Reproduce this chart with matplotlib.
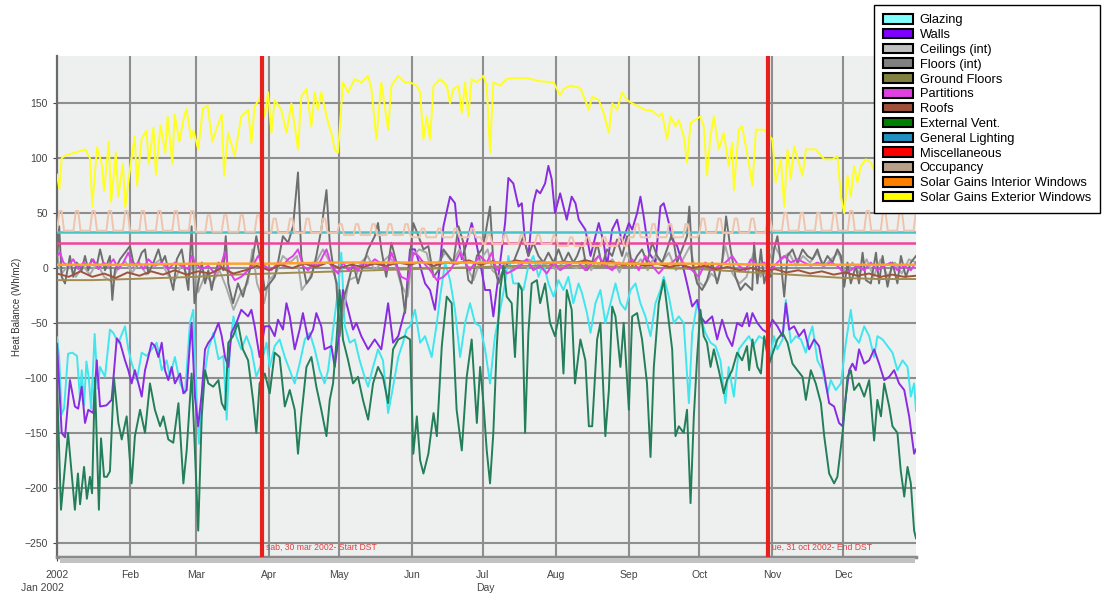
import numpy as np
import matplotlib
matplotlib.use("Agg")
import matplotlib.pyplot as plt
from matplotlib.patches import Patch, Rectangle

plt.rcParams['font.family'] = ['Liberation Sans', 'DejaVu Sans']

# ---------------- data (day of year, W/m2) ----------------
month_starts = [0, 31, 59, 90, 120, 151, 181, 212, 243, 273, 304, 334]
month_labels = ['2002', 'Feb', 'Mar', 'Apr', 'May', 'Jun', 'Jul', 'Aug', 'Sep', 'Oct', 'Nov', 'Dec']
y_ticks = [-250, -200, -150, -100, -50, 0, 50, 100, 150]

glazing = [(0,-63),(0.9,-81),(2,-133),(3,-128),(4.7,-78),(6.5,-77),(8.5,-80),(9.8,-120),(10.5,-93),(11.5,-125),(12.5,-85),(13.5,-100),(14.5,-128),(16,-60),(17.3,-110),(18.3,-90),(20.4,-99),(22.5,-56),(23.9,-59),(26.1,-68),(28.9,-53),(30.3,-74),(31.7,-86),(33.9,-102),(36,-77),(38.1,-80),(40.2,-74),(42.4,-68),(44.5,-93),(46.6,-84),(48,-99),(50.1,-81),(52.3,-105),(54.4,-114),(56.5,-50),(57.9,-38),(59.4,-123),(60.3,-160),(62.2,-105),(64.3,-74),(66.4,-59),(68.6,-83),(70.7,-80),(72.1,-138),(73.5,-71),(75,-44),(76.2,-62),(78.3,-74),(80.5,-62),(82.6,-74),(84.7,-99),(86.8,-87),(89,-68),(90.4,-90),(92.5,-71),(94.6,-65),(96.8,-81),(98.9,-93),(101,-105),(103.1,-87),(105.3,-65),(107.4,-59),(109.5,-74),(111.6,-93),(113.7,-105),(115.2,-93),(117.3,-56),(119.4,-20),(120.8,14),(122.3,-53),(124.4,-68),(126.5,-65),(128.6,-84),(130.7,-99),(132.2,-108),(134.3,-90),(136.4,-74),(138.5,-84),(140.7,-132),(142.8,-108),(145,-81),(147,-68),(148.5,-56),(150,-53),(152.1,-38),(154.3,-68),(156.4,-62),(159.2,-81),(161.4,-50),(162.8,-26),(164.9,5),(167,-11),(169.1,-38),(171.3,-81),(173.4,-50),(175.5,-32),(177.6,-50),(179.8,-53),(181.9,-74),(184,-105),(186.1,-62),(188.3,-38),(190.4,-14),(191.8,11),(193.9,-14),(196.1,-14),(198.2,-20),(200.3,2),(202.4,11),(204.6,-8),(206.7,5),(208.8,-14),(211,-26),(213.1,-11),(215.2,-20),(217.3,-8),(219.4,-32),(221.6,-14),(223.1,-23),(225.2,-41),(226.7,-59),(228.8,-32),(230.9,-20),(233,-50),(235.2,-32),(237.3,-14),(239.4,-32),(241.5,-38),(243.7,-20),(245.8,-14),(247.9,-32),(250,-44),(252.2,-62),(254.3,-32),(256.4,-20),(257.8,-8),(260,-26),(262.1,-50),(264.2,-44),(266.3,-50),(268.5,-123),(269.9,-59),(272,-32),(273.4,-44),(275.5,-59),(277.7,-68),(279.8,-71),(281.9,-84),(284,-123),(285.4,-90),(287.6,-117),(289.7,-74),(291.8,-68),(294,-62),(296,-70),(298.3,-62),(300.5,-65),(302.6,-87),(304.7,-62),(306.1,-74),(308.3,-65),(309.7,-29),(311.8,-68),(314,-62),(316.1,-65),(318.2,-77),(319.6,-62),(321,-53),(323.1,-84),(325.3,-93),(327.4,-114),(328.8,-102),(330.9,-111),(333.1,-105),(335.2,-68),(337.3,-38),(338.7,-62),(340.8,-68),(343,-53),(345.1,-62),(347.2,-81),(348.6,-62),(350.8,-65),(352.9,-71),(355,-77),(357.1,-93),(359.3,-84),(361.4,-90),(362.8,-117),(364.2,-105),(365,-130)]

walls = [(0,-69),(2,-150),(3.4,-154),(5.5,-102),(7.6,-126),(9,-128),(10.5,-108),(11.9,-141),(13.3,-129),(15.4,-132),(16.9,-84),(18.3,-126),(21,-125),(23.2,-120),(25.4,-64),(26.8,-68),(28.9,-84),(30.3,-93),(31.7,-105),(33.1,-93),(34.6,-105),(36,-117),(37.4,-93),(38.8,-81),(40.2,-68),(41.6,-71),(43.1,-81),(44.5,-68),(45.9,-93),(47.3,-102),(48.7,-90),(50.1,-105),(52.3,-96),(53.7,-114),(55.1,-111),(56.5,-68),(57.2,-50),(58.6,-117),(60,-144),(61.5,-114),(62.9,-74),(64.3,-68),(66.4,-62),(68.6,-50),(70,-62),(71.4,-81),(72.8,-90),(74.1,-59),(76.2,-50),(78.3,-38),(81.2,-44),(82.6,-38),(84,-53),(86.1,-81),(88.3,-53),(90.4,-53),(92.5,-62),(93.9,-47),(96,-56),(97.5,-32),(98.9,-44),(101,-74),(103.1,-56),(104.5,-41),(106.7,-65),(108.8,-56),(110.2,-41),(112.3,-53),(113.7,-74),(116.6,-71),(118,-90),(119.4,-68),(121.5,-20),(123.7,-38),(125.8,-56),(127.2,-50),(129.3,-62),(132.2,-74),(135,-65),(137.8,-74),(140.7,-32),(142.8,-68),(145,-62),(147.9,-38),(150,17),(152.1,17),(154.3,2),(156.4,-14),(158.5,-20),(160.6,-38),(162.8,5),(164.2,38),(167,65),(169.1,59),(170.6,26),(172,8),(174.1,23),(176.2,41),(177.6,29),(179.8,5),(181.9,-20),(184,-20),(185.4,-44),(186.8,-20),(188.3,5),(190.4,41),(191.8,82),(193.9,77),(196.1,56),(197.5,59),(198.9,23),(200.3,11),(202.4,59),(203.8,71),(205.3,68),(207.4,77),(208.8,93),(210.2,81),(211.6,50),(213.8,68),(215.2,56),(216.6,44),(218.7,65),(220.3,59),(221.7,44),(224.5,35),(226.7,11),(228.8,29),(230.2,41),(232.3,23),(233.7,2),(235.9,35),(238,44),(240.1,23),(243,41),(244.4,35),(246.5,50),(247.9,65),(249.3,47),(251.5,14),(254.3,5),(256.4,56),(257.8,59),(260,41),(261.4,26),(263.5,20),(265.6,5),(267.7,-14),(269.9,-35),(272,-29),(273.4,-44),(275.5,-50),(278.4,-44),(280.5,-65),(282.6,-47),(284.7,-62),(286.9,-71),(289,-50),(291.1,-53),(293.2,-41),(294.1,-53),(295.5,-41),(297.6,-50),(299.8,-56),(301.9,-59),(304,-47),(306.1,-53),(308.3,-62),(309.7,-32),(311.1,-56),(313.2,-53),(315.3,-62),(317.5,-56),(319.6,-74),(321.7,-65),(323.8,-71),(326,-96),(328.1,-123),(330.2,-126),(332.3,-141),(333.8,-144),(335.2,-117),(336.6,-93),(338,-87),(339.4,-93),(340.8,-74),(343,-87),(345.1,-84),(347.2,-74),(349.3,-87),(351.5,-102),(353.6,-99),(355.7,-93),(357.8,-105),(360,-111),(362.1,-135),(364.2,-169),(365,-165)]

ceilings = [(0,10),(2,-5),(5,3),(8,-8),(11,2),(14,-6),(17,5),(20,-8),(23,-12),(26,0),(29,6),(32,-4),(35,5),(38,-6),(41,3),(44,8),(47,-6),(50,-12),(53,4),(56,-10),(58,10),(60,-22),(63,-6),(66,-14),(69,-2),(72,-18),(75,-38),(78,-23),(81,-14),(83,17),(85,-14),(88,-32),(90,-11),(93,-5),(96,11),(99,5),(102,11),(104,-20),(107,-11),(110,5),(113,17),(116,5),(119,-14),(121,-50),(124,-11),(127,-8),(129,5),(132,11),(135,-2),(138,5),(141,11),(144,2),(146,-14),(149,-26),(151,11),(154,17),(157,14),(159,-2),(162,5),(165,14),(168,5),(171,17),(174,2),(177,-11),(180,8),(183,17),(185,-2),(188,-8),(191,2),(194,-2),(197,5),(200,8),(203,5),(206,2),(209,5),(212,-2),(215,5),(218,2),(221,0),(224,8),(227,-2),(230,11),(233,2),(236,8),(239,-4),(242,14),(245,0),(248,8),(251,-2),(254,11),(257,5),(260,14),(263,-2),(266,8),(269,20),(272,-11),(275,-17),(278,-5),(281,-11),(284,20),(287,-5),(290,-14),(293,-8),(296,14),(299,-8),(302,5),(305,20),(308,8),(311,14),(314,2),(317,11),(320,5),(323,14),(326,2),(329,8),(332,14),(335,-5),(338,5),(341,-5),(344,8),(347,-8),(350,8),(353,-8),(356,5),(359,-5),(362,8),(365,5)]

floors = [(0,5),(0.9,38),(2,-8),(3.4,-14),(5.5,11),(6.9,-8),(8.4,5),(10.5,-2),(11.9,11),(13.3,-2),(14.7,8),(16.9,2),(18.3,17),(20.4,-2),(22.5,11),(23.5,-29),(24.6,-2),(26.8,8),(28.9,14),(31,20),(32.4,5),(33.9,2),(36,14),(37.4,17),(38.8,-5),(41,5),(43.1,17),(44.5,5),(45.9,11),(48,-8),(49.4,-20),(50.9,8),(53,17),(54.4,-2),(55.8,-20),(57.2,38),(58.4,-32),(60,-14),(61.5,5),(62.9,-14),(64.3,-2),(65.7,-20),(67.1,-5),(68.6,5),(70.7,-2),(71.7,29),(72.8,-14),(74.8,-32),(76.9,-14),(79,-26),(81.2,-8),(83.3,11),(84.7,29),(86.1,11),(88.3,-20),(90.4,-14),(92.5,-8),(93.9,5),(96,29),(98.2,23),(100.3,38),(102.4,87),(103.8,11),(106,-14),(108.1,-8),(110.2,11),(112.3,35),(114.5,71),(115.9,23),(117.3,2),(118.7,-14),(120.1,-62),(121.5,-29),(123.7,-14),(125.8,5),(127.9,-14),(130,2),(132.2,17),(135,29),(136.4,41),(137.8,17),(139.9,-8),(142.1,23),(144.2,5),(146.3,-14),(147.9,-41),(150,11),(151.4,41),(153.6,29),(155.7,17),(157.8,20),(160,-8),(162.1,-2),(164.2,17),(166.3,11),(168.4,5),(170.6,38),(172.7,23),(174.8,-11),(176.2,-14),(178.4,11),(180.5,17),(181.9,29),(184,56),(185.4,5),(187.6,-14),(189.7,-2),(191.8,5),(193.9,5),(196.1,17),(198.2,29),(200.3,11),(202.4,23),(204.6,11),(206.7,5),(208.8,14),(211,5),(213.1,17),(215.2,5),(217.3,14),(219.4,5),(221,11),(223.1,23),(225.2,-2),(227.4,5),(229.5,23),(231.6,2),(233.7,17),(235.9,11),(238,26),(240.1,11),(242.2,29),(244.4,2),(246.5,11),(248.6,17),(250.7,5),(252.9,23),(255,11),(257.1,5),(259.2,17),(261.4,32),(263.5,5),(265.6,17),(267.7,29),(268.7,56),(269.9,5),(272,-14),(274.1,-20),(276.2,-11),(278.4,5),(280.5,-14),(282.6,5),(284.3,47),(286.2,17),(288.3,-8),(290.4,-20),(292.5,-14),(295.4,-20),(296.2,23),(297.6,-14),(299.1,17),(300.5,-14),(301.9,-2),(303.3,-8),(304.7,17),(306.1,29),(307.6,5),(309,-26),(310.4,11),(312.5,17),(314.6,5),(316.8,17),(318.9,11),(321,8),(323.1,17),(325.3,2),(327.4,11),(329.5,5),(331.6,17),(333.1,11),(334.5,-17),(335.9,5),(337.3,-14),(339.4,2),(340.8,-14),(342.3,14),(343.7,-11),(345.8,-14),(348,14),(349.3,-14),(350.8,11),(352.9,-17),(355,5),(357.1,-14),(358.6,11),(360.7,-8),(362.8,5),(365,11)]

ground_floors = [(0,-11),(15,-11),(31,-10),(45,-9),(59,-8),(75,-6),(90,-5),(105,-4),(120,-3),(135,-2),(151,-1),(166,0),(181,1),(196,2),(212,2),(227,2),(243,1),(258,0),(273,-1),(288,-3),(304,-5),(319,-7),(334,-9),(349,-10),(365,-10)]

partitions = [(0,11),(1.3,14),(2.7,5),(4.8,2),(6.9,8),(9.1,-1),(11.2,5),(13.3,2),(15.4,8),(17.6,-1),(19.7,5),(21.8,2),(24,8),(26.1,-1),(28.2,5),(30.3,14),(32.4,2),(34.6,5),(36.7,-1),(38.8,8),(41.6,2),(44.5,5),(47.3,-1),(50.1,5),(53,2),(55.8,-1),(57.2,11),(58.6,5),(61.5,-1),(64.3,2),(67.1,-5),(70,5),(71.4,15),(72.8,-1),(75.5,-11),(78.3,-8),(81.2,-2),(84,5),(85.4,11),(88.3,2),(91.1,-2),(93.9,5),(96,2),(98.2,8),(100.3,11),(102.4,17),(104.5,2),(106.7,-2),(108.8,5),(110.9,2),(113,11),(114.5,17),(116.6,2),(119.4,-5),(121.5,5),(123.7,-2),(125.8,2),(127.9,-2),(130,5),(132.2,2),(135,8),(137.1,5),(140,-2),(142.1,14),(144.2,2),(146.3,-8),(149.2,-11),(151.4,14),(153.6,11),(155.7,5),(158.5,-2),(161.4,-11),(164.2,-8),(167,-2),(169.1,5),(171.3,14),(173.4,5),(175.5,-2),(177.6,5),(179.8,11),(182.6,5),(184.7,14),(186.8,-2),(189,2),(191.1,-5),(193.9,-2),(196.8,2),(199.6,8),(202.4,-2),(205.3,2),(208.1,-5),(211,5),(213.8,-2),(216.6,2),(219.4,5),(221.7,5),(224.5,-2),(227.4,5),(230.2,11),(233,2),(235.9,-2),(238.7,5),(241.5,2),(244.4,8),(247.2,-2),(250,11),(252.9,2),(255.7,-5),(258.5,2),(261.4,5),(264.2,11),(267,2),(269.9,-2),(272.7,-8),(275.5,5),(278.4,-2),(281.2,2),(284,5),(286.9,11),(289.7,2),(292.5,-2),(294.8,8),(297.6,2),(300.5,5),(303.3,-2),(306.1,5),(309,11),(311.8,5),(314.6,8),(317.5,5),(320.3,2),(323.1,5),(326,2),(328.8,5),(331.6,2),(334.5,-5),(337.3,-2),(340.1,2),(343,-2),(345.8,5),(348.6,-2),(351.5,2),(354.3,5),(357.1,-2),(360,2),(362.8,-2),(365,5)]

roofs = [(0,-5),(5,-8),(10,-3),(15,-8),(20,-5),(25,-9),(30,-4),(35,-7),(40,-3),(45,-6),(50,-2),(55,-6),(60,-3),(65,-5),(70,0),(75,-5),(80,-2),(85,2),(90,-2),(95,3),(100,0),(105,4),(110,1),(115,5),(120,0),(125,3),(130,1),(135,4),(140,2),(145,5),(150,3),(155,6),(160,2),(165,5),(170,4),(175,7),(180,3),(185,6),(190,4),(195,7),(200,5),(205,6),(210,4),(215,6),(220,5),(225,7),(230,4),(235,6),(240,3),(245,5),(250,2),(255,4),(260,1),(265,3),(270,0),(275,2),(280,-1),(285,1),(290,-2),(295,0),(300,-3),(305,-1),(310,-4),(315,-2),(320,-5),(325,-3),(330,-6),(335,-4),(340,-7),(345,-5),(350,-8),(355,-6),(360,-8),(365,-7)]

external_vent = [(0,-103),(1.7,-220),(4.7,-150),(7.6,-220),(8.9,-187),(9.8,-215),(11.5,-181),(12.7,-210),(14,-190),(14.9,-205),(16.1,-100),(17.8,-220),(18.7,-155),(20,-190),(21.2,-190),(22.5,-185),(24.2,-100),(26.1,-141),(27.5,-156),(29.6,-135),(31.7,-196),(33.1,-153),(35.3,-129),(37.4,-150),(39.5,-105),(41.6,-129),(43.8,-144),(45.2,-135),(47.3,-156),(49.4,-159),(51.6,-123),(53.7,-196),(55.1,-166),(57.2,-96),(58.6,-166),(60,-239),(61.5,-135),(62.9,-93),(64.3,-105),(66.4,-108),(68.6,-102),(70,-123),(71.4,-129),(72.8,-68),(74.8,-62),(76.9,-50),(79,-74),(81.2,-84),(83.3,-120),(84.7,-150),(86.1,-105),(88.3,-96),(90.4,-114),(92.5,-77),(94.6,-81),(96.8,-126),(98.9,-111),(101,-129),(102.4,-169),(103.8,-135),(106,-90),(108.1,-81),(110.2,-108),(112.3,-129),(114.5,-153),(115.9,-120),(117.3,-105),(118.7,-68),(120.1,-20),(121.5,-65),(123.7,-84),(125.8,-105),(127.9,-99),(130,-120),(132.2,-138),(134.3,-105),(136.4,-90),(138.5,-99),(140.7,-123),(142.8,-74),(145,-65),(147.9,-62),(150,-65),(151.4,-169),(152.9,-135),(154.3,-175),(155.7,-187),(157.8,-169),(160,-132),(161.4,-153),(163.5,-71),(165.6,-26),(167.7,-32),(169.8,-129),(172,-166),(174.1,-99),(176.2,-65),(178.4,-141),(179.8,-90),(181.2,-123),(182.6,-166),(184,-196),(185.4,-150),(186.8,-74),(188.3,-20),(189.7,2),(191.1,-26),(193.2,-32),(194.6,-81),(196.1,-14),(197.5,-20),(198.9,-150),(200.3,-59),(201.7,-14),(203.9,-11),(205.3,-32),(207.4,-14),(209.5,-50),(211.6,-62),(213.8,-38),(215.2,-96),(216.6,-20),(218.7,-38),(220.1,-105),(222.4,-65),(224.5,-84),(226,-144),(227.4,-144),(229.5,-65),(230.9,-50),(233,-153),(234.5,-111),(235.9,-35),(237.3,-44),(239.4,-90),(240.8,-50),(243,-129),(244.4,-44),(246.5,-41),(248.6,-65),(250.7,-105),(252.2,-172),(253.6,-90),(255.7,-32),(257.8,-11),(260,-50),(261.4,-74),(262.8,-153),(264.2,-144),(266.3,-150),(267.7,-129),(269.2,-214),(270.6,-135),(272,-81),(273.4,-38),(274.8,-62),(276.2,-68),(277.7,-90),(279.1,-74),(281.2,-93),(283.3,-114),(284.7,-102),(286.9,-93),(289,-77),(291.1,-84),(293.2,-71),(294.1,-93),(295.5,-65),(297.6,-90),(299.1,-96),(300.5,-62),(302.6,-87),(304.7,-74),(306.1,-65),(308.3,-59),(310.4,-68),(312.5,-87),(314.6,-93),(316.8,-99),(318.2,-120),(320.3,-93),(322.4,-105),(324.6,-123),(326,-153),(328.1,-187),(330.2,-196),(331.6,-190),(333.8,-150),(335.9,-99),(337.3,-93),(338.7,-111),(340.8,-105),(343,-117),(345.1,-102),(347.2,-157),(348.6,-120),(350.1,-135),(351.5,-105),(353.6,-126),(355,-144),(357.1,-150),(358.5,-184),(360,-208),(361.4,-181),(362.8,-196),(364.2,-239),(365,-246)]

general_lighting = [(0,33),(365,33)]
miscellaneous = [(0,23),(365,23)]

# occupancy: monthly weekday (base) and busy-day (peak) levels, busy days repeat weekly
occupancy_base = [34, 34, 33, 32, 30, 28, 22, 20, 28, 32, 34, 34]
occupancy_peak = [52, 52, 48, 45, 40, 36, 30, 28, 40, 45, 50, 52]
occupancy_busy_weekdays = [1, 2]

solar_int = [(0,3),(31,3),(59,4),(90,4),(120,5),(151,5),(181,5),(212,5),(243,4),(273,4),(304,3),(334,3),(365,3)]

solar_ext = [(0,85),(1,72),(2,100),(4,103),(6,104),(9,106),(12,108),(14,100),(15,56),(17,110),(19,95),(20,70),(22,115),(23,60),(25,105),(26,65),(28,95),(29,55),(31,90),(33,120),(34,75),(36,118),(38,125),(39,95),(41,128),(42,85),(44,130),(46,105),(47,138),(49,95),(50,140),(52,115),(54,138),(55,145),(57,118),(58,125),(60,108),(62,145),(64,148),(66,115),(68,128),(70,140),(71,84),(72.7,123),(75.5,102),(78.3,138),(81.2,144),(82.6,114),(84,147),(86.8,157),(88.3,138),(89.7,160),(91.1,123),(92.5,153),(95.3,144),(97.5,123),(99.6,150),(102.4,108),(103.8,156),(106,163),(108.1,129),(109.5,160),(110.9,144),(112.3,160),(115.2,132),(116.6,123),(118,108),(119.4,105),(121.5,169),(123.7,160),(126.5,172),(129.3,169),(132.2,175),(133.6,163),(135.7,117),(137.8,169),(140.7,126),(142.1,166),(145,175),(147.8,169),(150,169),(152.9,166),(154.3,160),(155.7,117),(157.1,138),(158.5,117),(160,166),(162.8,172),(165.6,166),(167,150),(168.4,163),(170.6,166),(172,141),(173.4,169),(174.8,138),(176.2,172),(178.4,169),(181.2,175),(182.6,166),(184,105),(185.4,169),(188.3,166),(191.1,172),(193.9,173),(199.6,173),(205.3,170),(211,169),(213.8,157),(215.2,163),(218,166),(222.3,164),(223.1,160),(226,144),(227.4,156),(230.2,153),(232.3,141),(234.5,123),(235.9,150),(238,144),(240.1,160),(242.2,153),(244.4,150),(247.2,147),(250,144),(252.9,143),(255.7,138),(257.1,141),(259.2,117),(260.7,138),(262.8,129),(264.2,135),(266.3,120),(267.7,96),(269.2,132),(271.3,135),(273.4,138),(274.8,129),(276.2,84),(277.7,120),(279.1,138),(281.2,108),(283.3,123),(285.4,93),(286.9,114),(287.6,71),(289.7,126),(291.1,129),(293.2,105),(295.5,75),(297,126),(300.5,126),(304,117),(305.4,78),(307.6,99),(309,56),(310.4,108),(311.8,81),(313.2,111),(316.8,84),(318.2,108),(322.4,108),(326,99),(329.5,99),(331.6,102),(333.1,65),(334.5,50),(335.9,84),(337.3,65),(338.7,93),(340.1,78),(341.6,93),(343.7,99),(345.8,96),(348,85),(350,100),(353,75),(356,95),(359,70),(362,90),(365,85)]

dst_days = [87, 302]
dst_labels = ['sab, 30 mar 2002- Start DST', 'ue, 31 oct 2002- End DST']

# occupancy daily values from the monthly levels
occ_days = np.arange(0, 366)
occ_month = np.searchsorted(month_starts, occ_days, side='right') - 1
occ_vals = np.where(np.isin(occ_days % 7, occupancy_busy_weekdays),
                    np.array(occupancy_peak)[occ_month], np.array(occupancy_base)[occ_month])

# ---------------- figure ----------------
W, H = 1104, 596
fig = plt.figure(figsize=(W / 100, H / 100), dpi=100)
ax = fig.add_axes([57 / W, (H - 557) / H, 859 / W, 501 / H])
ax.set_facecolor('#eef0f0')

series = [
    ('Glazing', glazing, '#3fe6ee', '#80ffff'),
    ('Walls', walls, '#8a2be2', '#8000ff'),
    ('Ceilings (int)', ceilings, '#a9a9a9', '#c0c0c0'),
    ('Floors (int)', floors, '#6e6e6e', '#808080'),
    ('Ground Floors', ground_floors, '#a08c50', '#808040'),
    ('Partitions', partitions, '#e040e8', '#e040e0'),
    ('Roofs', roofs, '#a0523a', '#a0503a'),
    ('External Vent.', external_vent, '#237f5a', '#008000'),
    ('General Lighting', general_lighting, '#48c4c8', '#2090c0'),
    ('Miscellaneous', miscellaneous, '#f0449a', '#ff0000'),
    ('Occupancy', None, '#efc4ac', '#b8a088'),
    ('Solar Gains Interior Windows', solar_int, '#ffa030', '#ff8000'),
    ('Solar Gains Exterior Windows', solar_ext, '#ffff22', '#ffff00'),
]

for gy in y_ticks:
    ax.axhline(gy, color='#8e8e8e', lw=1.5, zorder=1)
for gx in month_starts[1:]:
    ax.axvline(gx, color='#8e8e8e', lw=1.5, zorder=1)

handles = []
for i, (name, data, lc, pc) in enumerate(series):
    if data is None:
        xs, ys = occ_days, occ_vals
    else:
        xs = [p[0] for p in data]
        ys = [p[1] for p in data]
    lw = 1.8 if name in ('General Lighting', 'Miscellaneous', 'Solar Gains Interior Windows') else 1.4
    ax.plot(xs, ys, color=lc, lw=lw, zorder=3 + i * 0.1, solid_joinstyle='round')
    handles.append(Patch(facecolor=pc, edgecolor='black', linewidth=1.5, label=name))

for d, lab in zip(dst_days, dst_labels):
    ax.axvline(d, color='#e8201c', lw=3, zorder=6)
    ax.text(d + 2.0, -254, lab, color='#e04040', fontsize=6.2, va='center', ha='left', zorder=7)

ax.set_xlim(0, 365)
ax.set_ylim(-263, 193)
ax.set_xticks(month_starts)
ax.set_xticklabels(month_labels)
ax.set_yticks(y_ticks)
ax.tick_params(axis='both', labelsize=7.5, colors='#444444', length=3, width=0.8)
ax.tick_params(axis='x', pad=6)
for side in ('top', 'right'):
    ax.spines[side].set_visible(False)
ax.spines['left'].set_color('#6a6a6a')
ax.spines['left'].set_linewidth(1.6)
ax.spines['bottom'].set_color('#8a8a8a')
ax.spines['bottom'].set_linewidth(2.5)

# 3D-like shadow under the plot
fig.patches.append(Rectangle((60 / W, (H - 563) / H), 855 / W, 5 / H,
                             transform=fig.transFigure, facecolor='#c2c2c2', edgecolor='none'))

ax.set_ylabel('Heat Balance (Wh/m2)', fontsize=7, color='#333333')
ax.yaxis.set_label_coords(-0.041, 0.5)
fig.text(42 / W, 1 - 588 / H, 'Jan 2002', fontsize=7.5, color='#444444', ha='center', va='center')
fig.text(485 / W, 1 - 588 / H, 'Day', fontsize=7.5, color='#444444', ha='center', va='center')

leg = fig.legend(handles=handles, loc='upper left', bbox_to_anchor=(874 / W, 1 - 5 / H),
                 bbox_transform=fig.transFigure, fontsize=9.3, frameon=True, fancybox=False,
                 edgecolor='black', framealpha=1, borderaxespad=0, borderpad=0.7,
                 labelspacing=0.2, handlelength=2.35, handleheight=0.75, handletextpad=0.5)
leg.get_frame().set_linewidth(1.0)

fig.savefig('out.png', dpi=100)
